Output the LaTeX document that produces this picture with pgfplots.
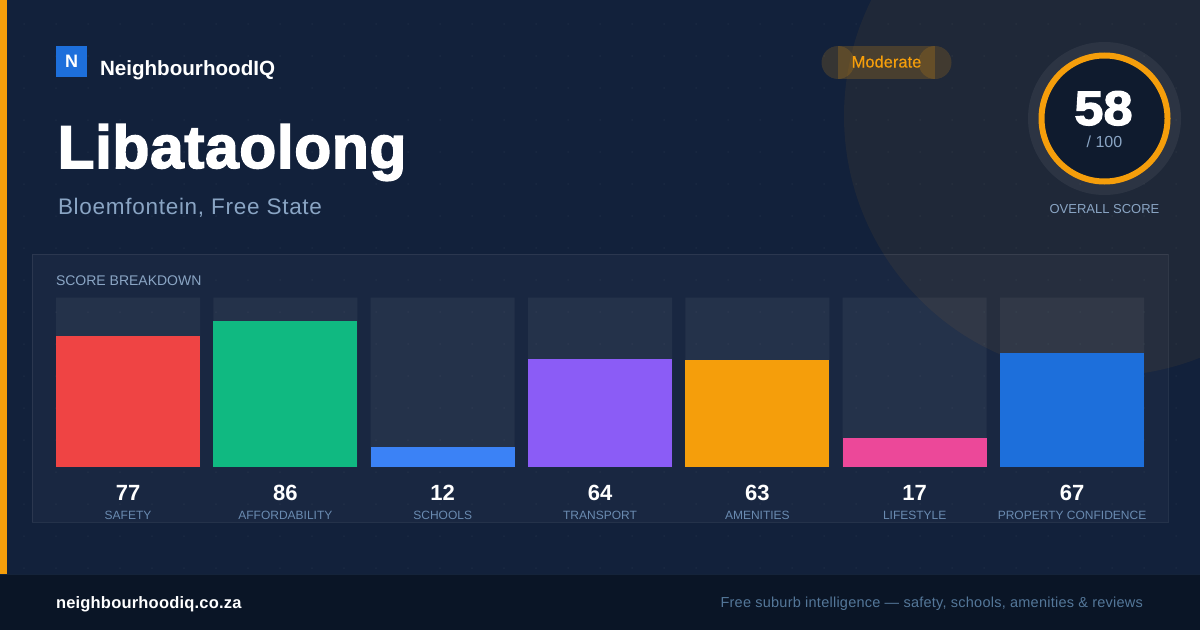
\documentclass[border=0pt]{standalone}
\usepackage{fontspec}
\usepackage{graphicx}
\usepackage{pgfplots}
\pgfplotsset{compat=1.18}
\setmainfont{Liberation Sans}
\newfontfamily\heavy{Liberation Sans}[BoldFeatures={FakeBold=2.5}]
\newfontfamily\heavyS{Liberation Sans}[LetterSpace=1,BoldFeatures={FakeBold=2.5}]
\newfontfamily\medium{Liberation Sans}[FakeBold=0.3]
\newfontfamily\spacedA{Liberation Sans}[LetterSpace=1.2]
\newfontfamily\spacedB{Liberation Sans}[LetterSpace=3.2]
\newfontfamily\spacedC{Liberation Sans}[LetterSpace=1.7]
\definecolor{bg}{HTML}{12213B}
\definecolor{foot}{HTML}{0A1526}
\definecolor{footline}{HTML}{14233A}
\definecolor{amber}{HTML}{F59E0B}
\definecolor{muted}{HTML}{8AA5C4}
\definecolor{lab}{HTML}{6A8BB1}
\definecolor{foottxt}{HTML}{547799}
\definecolor{cRed}{HTML}{EF4444}
\definecolor{cGreen}{HTML}{10B981}
\definecolor{cBlue}{HTML}{3B82F6}
\definecolor{cPurple}{HTML}{8B5CF6}
\definecolor{cPink}{HTML}{EC4899}
\definecolor{cBrand}{HTML}{1D6FDB}
\definecolor{gaugebg}{HTML}{0F1B2E}
\newcommand{\fs}[1]{\fontsize{#1bp}{#1bp}\selectfont}
\newcommand{\T}[5]{\node[anchor=base #3,inner sep=0pt,outer sep=0pt,text=#4] at (#1bp,-#2bp) {#5};}
\begin{document}
\begin{tikzpicture}
\useasboundingbox (0,0) rectangle (1200bp,-630bp);
\begin{scope}
\clip (0,0) rectangle (1200bp,-630bp);
\fill[bg] (0,0) rectangle (1200bp,-630bp);
% faint dot grid
\foreach \i in {0,...,37}{\foreach \j in {0,...,17}{
  \fill[white,opacity=0.035] ({(24+32*\i)*1bp},{-(24+32*\j)*1bp}) circle (1bp);}}
% large circle top right
\fill[amber,opacity=0.06] (1104bp,-116bp) circle (260bp);
% panel
\fill[white,opacity=0.03] (32bp,-254bp) rectangle (1168bp,-522bp);
\draw[white,opacity=0.08,line width=1bp] (32.5bp,-254.5bp) rectangle (1168.5bp,-522.5bp);
% left strip
\fill[amber] (0,0) rectangle (7bp,-574bp);
% footer
\fill[foot] (0,-574bp) rectangle (1200bp,-630bp);
\fill[footline] (0,-574bp) rectangle (1200bp,-575bp);
\end{scope}

\begin{axis}[
  at={(56bp,-467bp)},anchor=south west,
  scale only axis,width=1088bp,height=169.5bp,
  xmin=-0.45763,xmax=6.45763,ymin=0,ymax=100,
  ybar,bar width=144bp,bar shift=0pt,
  axis line style={draw=none},
  major tick style={draw=none},
  ytick=\empty,
  xtick={0,1,2,3,4,5,6},
  xticklabels={SAFETY,AFFORDABILITY,SCHOOLS,TRANSPORT,AMENITIES,LIFESTYLE,PROPERTY CONFIDENCE},
  xticklabel style={font=\fs{12},text=lab,anchor=base,yshift=-48.5bp,inner sep=0pt},
  clip=false,
  every axis plot/.append style={draw=none},
]
\addplot[fill=white,fill opacity=0.05] coordinates {(0,100)(1,100)(2,100)(3,100)(4,100)(5,100)(6,100)};
\addplot[fill=cRed] coordinates {(0,77)};
\addplot[fill=cGreen] coordinates {(1,86)};
\addplot[fill=cBlue] coordinates {(2,12)};
\addplot[fill=cPurple] coordinates {(3,64)};
\addplot[fill=amber] coordinates {(4,63)};
\addplot[fill=cPink] coordinates {(5,17)};
\addplot[fill=cBrand] coordinates {(6,67)};
% value labels under the bars
\addplot[draw=none,fill=none,
  point meta=explicit symbolic,
  nodes near coords,
  every node near coord/.append style={font=\bfseries\fs{22},text=white,anchor=base,yshift=-33bp,inner sep=0pt},
] coordinates {(0,0)[77] (1,0)[86] (2,0)[12] (3,0)[64] (4,0)[63] (5,0)[17] (6,0)[67]};
\end{axis}

% logo
\fill[cBrand] (56bp,-46bp) rectangle (87bp,-77bp);
\T{71.5}{67}{}{white}{\bfseries\fs{18}N}
\T{100}{75}{west}{white}{\bfseries\fs{20.6}NeighbourhoodIQ}
\T{57.5}{168}{west}{white}{\heavyS\bfseries\fs{60.5}Libataolong}
\T{58}{214}{west}{muted}{\spacedB\fs{22.5}Bloemfontein, Free State}
\T{56}{285}{west}{muted}{\fs{14}SCORE BREAKDOWN}
% badge
\fill[amber,opacity=0.16] (838bp,-62.5bp) circle (16.5bp);
\fill[amber,opacity=0.16] (935bp,-62.5bp) circle (16.5bp);
\fill[amber,opacity=0.2] (838bp,-46bp) rectangle (935bp,-79bp);
\T{886.5}{67.5}{}{amber}{\medium\fs{16.5}Moderate}
% gauge
\fill[white,opacity=0.06] (1104.5bp,-118.5bp) circle (76.5bp);
\fill[gaugebg] (1104.5bp,-118.5bp) circle (63bp);
\draw[amber,line width=6bp] (1104.5bp,-118.5bp) circle (63bp);
\T{1103.5}{125}{}{white}{\scalebox{1.08}[1]{\heavy\bfseries\fs{48.5}58}}
\T{1104.5}{147}{}{muted}{\fs{16}/ 100}
\T{1104.5}{213}{}{muted}{\fs{13}OVERALL SCORE}
% footer text
\T{56}{608}{west}{white}{\spacedA\bfseries\fs{16.5}neighbourhoodiq.co.za}
\T{1143}{607}{east}{foottxt}{\spacedC\fs{14.5}Free suburb intelligence — safety, schools, amenities \& reviews}
\end{tikzpicture}
\end{document}
